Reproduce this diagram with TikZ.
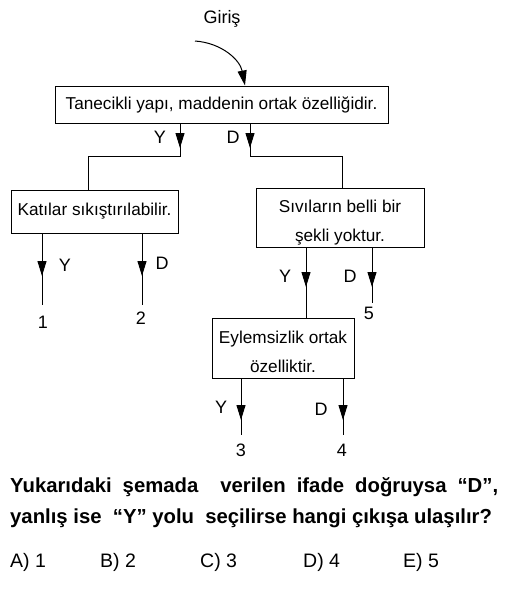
\documentclass[tikz,border=0pt]{standalone}
\usepackage{fontspec}
\setmainfont{Liberation Sans}
\usetikzlibrary{arrows.meta}
\tikzset{
  box/.style={draw,line width=1pt,inner sep=0pt,font=\fontsize{17.2}{28.5}\selectfont,align=center},
  lbl/.style={font=\fontsize{18}{20}\selectfont,inner sep=0pt},
  ln/.style={line width=1pt},
  tip/.style={line width=1pt,-{Triangle[length=15pt,width=9pt]}},
  ans/.style={anchor=west,inner sep=0pt,font=\fontsize{19.5}{22}\selectfont},
  qst/.style={anchor=west,inner sep=0pt,font=\fontsize{20.3}{22}\bfseries},
}
\begin{document}
\begin{tikzpicture}[x=1pt,y=-1pt]
\useasboundingbox (0,0) rectangle (506,597);
% boxes
\node[box,minimum width=333pt,minimum height=37pt] (main) at (221.5,104.5) {Tanecikli yapı, maddenin ortak özelliğidir.};
\node[box,minimum width=167pt,minimum height=43pt] (kat) at (94.5,211.5) {Katılar sıkıştırılabilir.};
\node[box,minimum width=168pt,minimum height=59pt,text height=47pt,text depth=0pt] (siv) at (340,217.5) {Sıvıların belli bir\\şekli yoktur.};
\node[box,minimum width=142pt,minimum height=60pt,text height=48pt,text depth=0pt] (eyl) at (283,348) {Eylemsizlik ortak\\özelliktir.};
% entry
\node[lbl] (giris) at (222,19) {Giriş};
\coordinate (gs) at (195,41);
\draw[tip] (gs) .. controls (222,43) and (240,60) .. (main.north -| 245,0);
% main outputs
\coordinate (my) at (main.south -| 180,0);
\coordinate (md) at (main.south -| 250,0);
\coordinate (myb) at (180,156);
\coordinate (mdb) at (250,156);
\draw[ln] (my) -- (myb) -| (kat.north -| 88,0);
\draw[ln] (md) -- (mdb) -| (siv.north -| 342,0);
\draw[tip] (my) -- (180,148);
\draw[tip] (md) -- (250,148);
\node[lbl] (ly1) at (160,137) {Y};
\node[lbl] (ld1) at (233,137) {D};
% katılar outputs
\node[lbl] (o1) at (43,322) {1};
\node[lbl] (o2) at (141,318) {2};
\coordinate (k1) at (kat.south -| 42,0);
\coordinate (k2) at (kat.south -| 142,0);
\draw[ln] (k1) -- (42,305);
\draw[ln] (k2) -- (142,305);
\draw[tip] (k1) -- (42,276);
\draw[tip] (k2) -- (142,276);
\node[lbl] (ly2) at (65,265) {Y};
\node[lbl] (ld2) at (162,263) {D};
% sıvılar outputs
\coordinate (s1) at (siv.south -| 306,0);
\coordinate (s2) at (siv.south -| 372,0);
\draw[ln] (s1) -- (eyl.north -| 306,0);
\draw[ln] (s2) -- (372,303);
\draw[tip] (s1) -- (306,287);
\draw[tip] (s2) -- (372,287);
\node[lbl] (ly3) at (285,276) {Y};
\node[lbl] (ld3) at (350,276) {D};
\node[lbl] (o5) at (369,313) {5};
% eylemsizlik outputs
\coordinate (e1) at (eyl.south -| 241,0);
\coordinate (e2) at (eyl.south -| 343,0);
\draw[ln] (e1) -- (241,435);
\draw[ln] (e2) -- (343,435);
\draw[tip] (e1) -- (241,420);
\draw[tip] (e2) -- (343,420);
\node[lbl] (ly4) at (221,407) {Y};
\node[lbl] (ld4) at (321,409) {D};
\node[lbl] (o3) at (241,450) {3};
\node[lbl] (o4) at (342,450) {4};
% question
\node[qst] (q1) at (10,487) {\makebox[488pt][s]{Yukarıdaki şemada\ \ verilen ifade doğruysa “D”,}};
\node[qst] (q2) at (10,518) {yanlış ise\ \ “Y” yolu\ \ seçilirse hangi çıkışa ulaşılır?};
\node[ans] (a1) at (10,562) {A) 1};
\node[ans] (a2) at (100,562) {B) 2};
\node[ans] (a3) at (200,562) {C) 3};
\node[ans] (a4) at (303,562) {D) 4};
\node[ans] (a5) at (403,562) {E) 5};
\end{tikzpicture}
\end{document}
